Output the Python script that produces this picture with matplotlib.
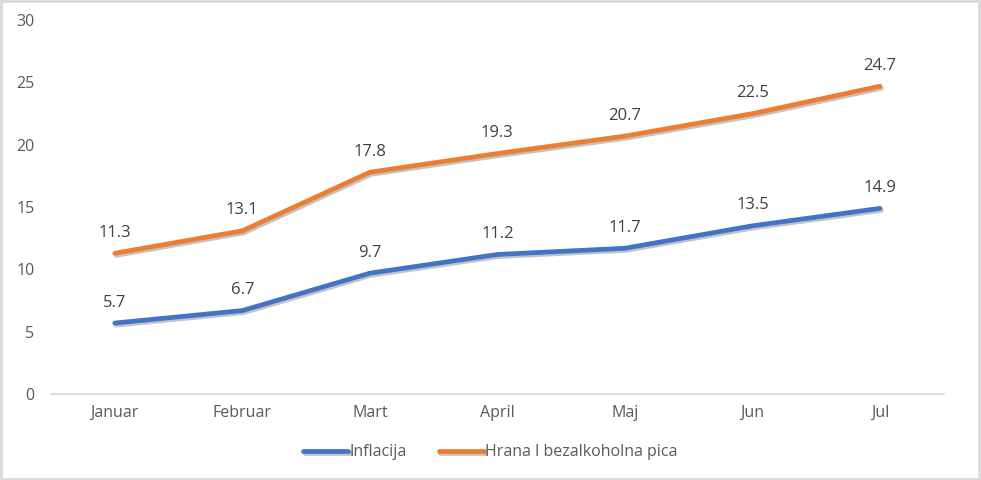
import matplotlib
matplotlib.use('Agg')
import matplotlib.pyplot as plt
import matplotlib.patheffects as pe
from matplotlib.patches import Rectangle

months = ['Januar', 'Februar', 'Mart', 'April', 'Maj', 'Jun', 'Jul']
inflacija = [5.7, 6.7, 9.7, 11.2, 11.7, 13.5, 14.9]
hrana = [11.3, 13.1, 17.8, 19.3, 20.7, 22.5, 24.7]
y_ticks = [0, 5, 10, 15, 20, 25, 30]

plt.rcParams['font.family'] = ['Open Sans', 'DejaVu Sans']

fig = plt.figure(figsize=(9.81, 4.8), dpi=100)
ax = fig.add_axes([0.052, 0.179, 0.910, 0.779])

x = list(range(len(months)))
shadow = [pe.SimpleLineShadow(offset=(1, -1.5), shadow_color='#555555', alpha=0.35),
          pe.Normal()]
ax.plot(x, inflacija, color='#4472C4', lw=3.4, solid_capstyle='round',
        solid_joinstyle='round', label='Inflacija', path_effects=shadow)
ax.plot(x, hrana, color='#ED7D31', lw=3.4, solid_capstyle='round',
        solid_joinstyle='round', label='Hrana I bezalkoholna pica',
        path_effects=shadow)

for series in (inflacija, hrana):
    for xi, v in zip(x, series):
        ax.annotate(f'{v}', (xi, v), xytext=(0, 9), textcoords='offset points',
                    ha='center', va='bottom', fontsize=12, color='#404040')

ax.set_xlim(-0.5, len(months) - 0.5)
ax.set_ylim(0, 30)
ax.set_yticks(y_ticks)
ax.set_xticks(x)
ax.set_xticklabels(months)
ax.tick_params(axis='both', length=0, labelsize=11.5, labelcolor='#595959')
ax.tick_params(axis='y', pad=12)
ax.tick_params(axis='x', pad=8)
for side in ('top', 'right', 'left'):
    ax.spines[side].set_visible(False)
ax.spines['bottom'].set_color('#D9D9D9')
ax.spines['bottom'].set_linewidth(1.3)

leg = fig.legend(loc='center', bbox_to_anchor=(0.5, 0.058), ncol=2,
                 frameon=False, fontsize=11.5, handlelength=2.8,
                 handletextpad=0.1, columnspacing=2.0)
for t in leg.get_texts():
    t.set_color('#595959')

fig.patches.append(Rectangle((0.001, 0.002), 0.997, 0.995, transform=fig.transFigure,
                             fill=False, edgecolor='#D9D9D9', lw=2))

fig.savefig('out.png', dpi=100, facecolor='white')
